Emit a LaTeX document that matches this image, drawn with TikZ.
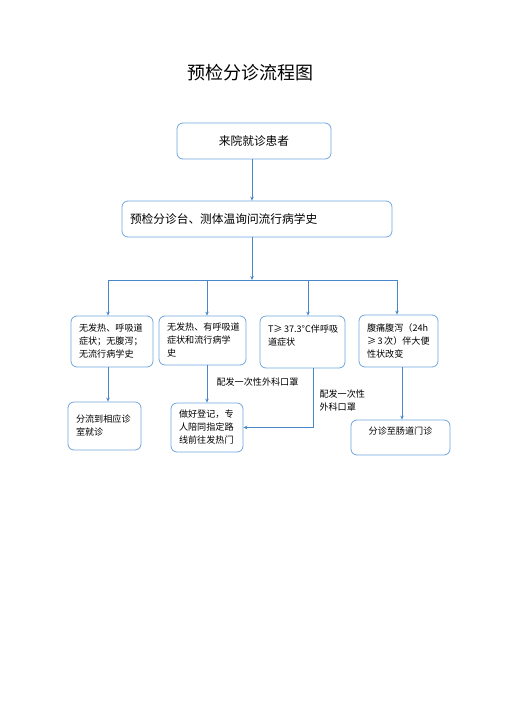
\documentclass[tikz,border=0pt]{standalone}
\usepackage{fontspec}
\setmainfont{Noto Sans CJK SC}
\usepackage{tikz}
\usetikzlibrary{positioning,calc,arrows.meta}
\definecolor{boxblue}{RGB}{110,165,220}
\definecolor{lineblue}{RGB}{75,135,200}

\begin{document}
\begin{tikzpicture}[x=1pt, y=-1pt,
    box/.style={rectangle, draw=boxblue, line width=0.8pt, rounded corners=6pt, inner xsep=8pt, inner ysep=4pt, align=left, font=\fontsize{9.1}{13}\selectfont},
    link/.style={draw=lineblue, line width=0.8pt},
    >={Stealth[length=4pt,width=3.5pt]}]
    \useasboundingbox (0,0) rectangle (504,713);

    % Title
    \node (title) at (250,73) {\fontsize{18}{20}\selectfont 预检分诊流程图};

    % Top boxes
    \node[box, minimum width=154pt, minimum height=36pt, align=center, font=\fontsize{11.7}{14}\selectfont] (arrive) at (254,141) {来院就诊患者};
    \node[box, minimum width=270pt, minimum height=36pt, text width=254pt, font=\fontsize{11.7}{14}\selectfont] (triage) at (257,219) {预检分诊台、测体温询问流行病学史};

    % Branch points
    \coordinate (split) at (252,280);
    \coordinate (tA) at (108,280);
    \coordinate (tB) at (207,280);
    \coordinate (tE) at (308,280);
    \coordinate (tF) at (397,280);
    \coordinate (tFever) at (313,427);
    \coordinate (tGut) at (402,437);

    % Middle row
    \node[box, minimum width=80pt, minimum height=51pt, text width=66pt] (noSym) at (112,341.5) {无发热、呼吸道\\症状；无腹泻；\\无流行病学史};
    \node[box, minimum width=85pt, minimum height=49pt, text width=71pt] (resp) at (202.5,340.5) {\mbox{无发热、有呼吸道}\\症状和流行病学\\史};
    \node[box, minimum width=85pt, minimum height=52pt, text width=69pt] (fever) at (302.5,342) {\mbox{T≥\,37.3°C伴呼吸}\\道症状\\[1pt]\mbox{}};
    \node[box, minimum width=79pt, minimum height=52pt, text width=63pt] (diarr) at (398.5,341) {\mbox{腹痛腹泻（24h}\\\mbox{≥\,3\,次）伴大便}\\性状改变};

    % Bottom row
    \node[box, minimum width=73pt, minimum height=48pt, text width=57pt] (clinic) at (104.5,426) {分流到相应诊\\室就诊};
    \node[box, minimum width=72pt, minimum height=49pt, text width=56pt] (escort) at (207,427.5) {\mbox{做好登记，专}\\\mbox{人陪同指定路}\\\mbox{线前往发热门}};
    \node[box, minimum width=99pt, minimum height=35pt, align=center] (gut) at (400.5,437.5) {分诊至肠道门诊\\\mbox{}};

    % Labels
    \node[anchor=west, font=\fontsize{9.1}{13}\selectfont] (maskA) at (213,382) {配发一次性外科口罩};
    \node[anchor=west, align=left, font=\fontsize{9.1}{13}\selectfont] (maskB) at (316,400.5) {配发一次性\\外科口罩};

    % Connectors
    \draw[link, ->] (arrive.south -| split) -- (triage.north -| split);
    \draw[link, ->] (triage.south -| split) -- (split);
    \draw[link] (tA) -- (tF);
    \draw[link, ->] (tA) -- (tA |- noSym.north);
    \draw[link, ->] (tB) -- (tB |- resp.north);
    \draw[link, ->] (tE) -- (tE |- fever.north);
    \draw[link, ->] (tF) -- (tF |- diarr.north);
    \draw[link, ->] (noSym.south -| tA) -- (clinic.north -| tA);
    \draw[link, ->] (resp.south -| tB) -- (escort.north -| tB);
    \draw[link, ->] (fever.south -| tFever) |- (escort.east);
    \draw[link, ->] (diarr.south -| tGut) -- (gut.north -| tGut);
\end{tikzpicture}
\end{document}
